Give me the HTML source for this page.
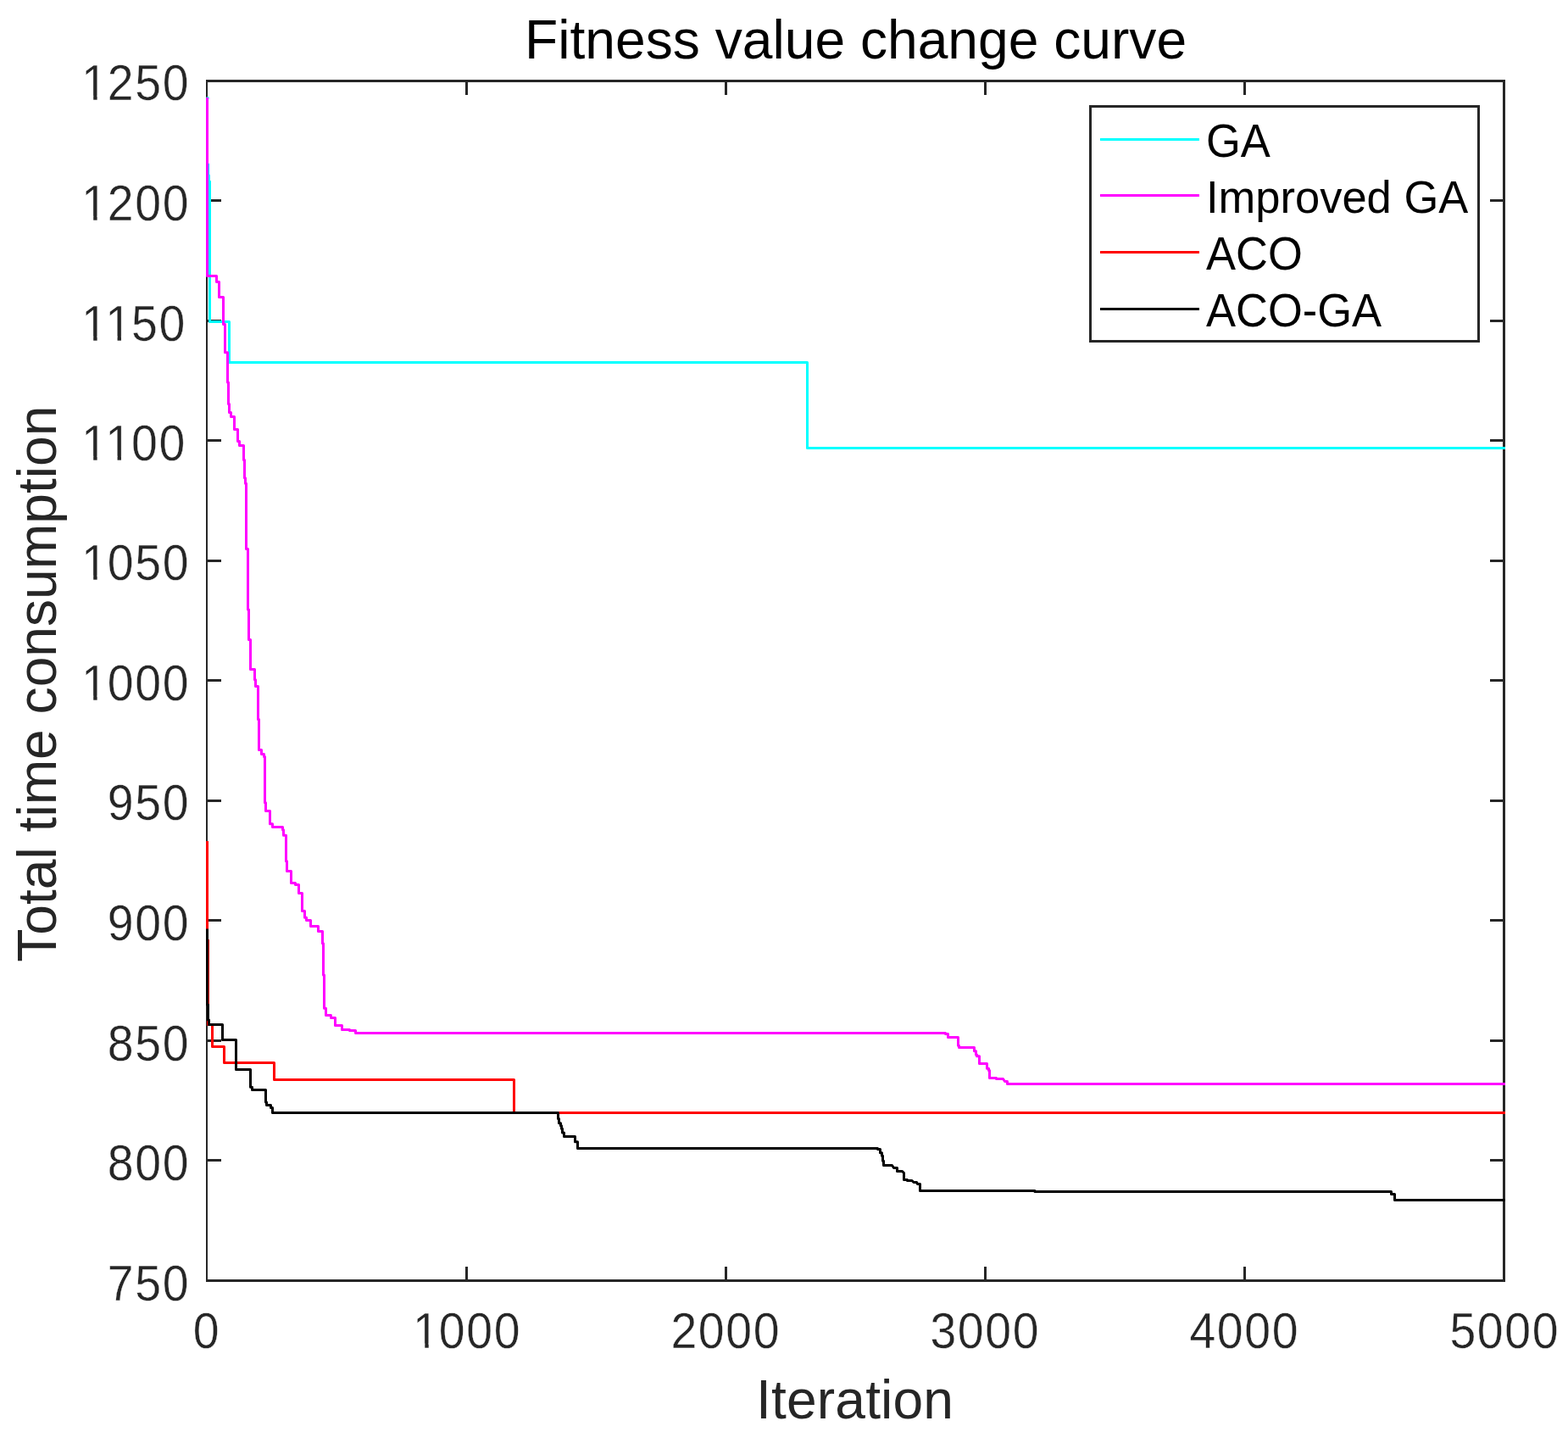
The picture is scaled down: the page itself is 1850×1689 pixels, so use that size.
<!DOCTYPE html>
<html lang="en"><head><meta charset="utf-8"><title>Fitness value change curve</title>
<style>html,body{margin:0;padding:0;background:#fff}body{width:1850px;height:1689px;overflow:hidden}svg{display:block}text{font-family:'Liberation Sans', sans-serif}</style>
</head><body>
<svg width="1850" height="1689" viewBox="0 0 1850 1689">
<rect x="0" y="0" width="1850" height="1689" fill="#ffffff"/>
<g id="axes" shape-rendering="crispEdges">
<rect x="243.0" y="94.0" width="1533.0" height="3.0" fill="#262626"/>
<rect x="243.0" y="1509.0" width="1533.0" height="3.0" fill="#262626"/>
<rect x="1773.0" y="94.0" width="3.0" height="1418.0" fill="#262626"/>
<rect x="243.0" y="94.0" width="2.0" height="1418.0" fill="#262626"/>
<rect x="549.0" y="1494.0" width="3" height="15" fill="#262626"/>
<rect x="549.0" y="97.0" width="3" height="15" fill="#262626"/>
<rect x="855.0" y="1494.0" width="3" height="15" fill="#262626"/>
<rect x="855.0" y="97.0" width="3" height="15" fill="#262626"/>
<rect x="1161.0" y="1494.0" width="3" height="15" fill="#262626"/>
<rect x="1161.0" y="97.0" width="3" height="15" fill="#262626"/>
<rect x="1467.0" y="1494.0" width="3" height="15" fill="#262626"/>
<rect x="1467.0" y="97.0" width="3" height="15" fill="#262626"/>
<rect x="245.0" y="1367.0" width="16" height="3" fill="#262626"/>
<rect x="1758.0" y="1367.0" width="15" height="3" fill="#262626"/>
<rect x="245.0" y="1226.0" width="16" height="3" fill="#262626"/>
<rect x="1758.0" y="1226.0" width="15" height="3" fill="#262626"/>
<rect x="245.0" y="1084.0" width="16" height="3" fill="#262626"/>
<rect x="1758.0" y="1084.0" width="15" height="3" fill="#262626"/>
<rect x="245.0" y="943.0" width="16" height="3" fill="#262626"/>
<rect x="1758.0" y="943.0" width="15" height="3" fill="#262626"/>
<rect x="245.0" y="801.0" width="16" height="3" fill="#262626"/>
<rect x="1758.0" y="801.0" width="15" height="3" fill="#262626"/>
<rect x="245.0" y="660.0" width="16" height="3" fill="#262626"/>
<rect x="1758.0" y="660.0" width="15" height="3" fill="#262626"/>
<rect x="245.0" y="518.0" width="16" height="3" fill="#262626"/>
<rect x="1758.0" y="518.0" width="15" height="3" fill="#262626"/>
<rect x="245.0" y="377.0" width="16" height="3" fill="#262626"/>
<rect x="1758.0" y="377.0" width="15" height="3" fill="#262626"/>
<rect x="245.0" y="235.0" width="16" height="3" fill="#262626"/>
<rect x="1758.0" y="235.0" width="15" height="3" fill="#262626"/>
</g>
<g id="xticklabels" font-size="58.33" fill="#262626" text-anchor="start" stroke="#ffffff" stroke-width="0.4" letter-spacing="1.71">
<text transform="translate(227.78 1589.6) scale(0.95 1.008)">0</text>
<text transform="translate(485.41 1589.6) scale(0.95 1.008)" dx="1.79 -1.79">1000</text>
<text transform="translate(791.41 1589.6) scale(0.95 1.008)">2000</text>
<text transform="translate(1097.41 1589.6) scale(0.95 1.008)">3000</text>
<text transform="translate(1403.41 1589.6) scale(0.95 1.008)">4000</text>
<text transform="translate(1710.41 1589.6) scale(0.95 1.008)">5000</text>
</g>
<g id="yticklabels" font-size="58.33" fill="#262626" text-anchor="start" stroke="#ffffff" stroke-width="0.4" letter-spacing="1.71">
<text transform="translate(126.77 1533.95) scale(0.95 1.008)">750</text>
<text transform="translate(126.77 1391.8) scale(0.95 1.008)">800</text>
<text transform="translate(126.77 1250.5) scale(0.95 1.008)">850</text>
<text transform="translate(126.77 1108.65) scale(0.95 1.008)">900</text>
<text transform="translate(126.77 966.7) scale(0.95 1.008)">950</text>
<text transform="translate(94.33 825.7) scale(0.95 1.008)" dx="1.79 -1.79">1000</text>
<text transform="translate(94.33 683.8) scale(0.95 1.008)" dx="1.79 -1.79">1050</text>
<text transform="translate(94.33 542.9) scale(0.95 1.008)" dx="1.79 0 -1.79">1100</text>
<text transform="translate(94.33 401.7) scale(0.95 1.008)" dx="1.79 0 -1.79">1150</text>
<text transform="translate(94.33 259.8) scale(0.95 1.008)" dx="1.79 -1.79">1200</text>
<text transform="translate(94.33 117.85) scale(0.95 1.008)" dx="1.79 -1.79">1250</text>
</g>
<g id="tick-patches" fill="#ffffff">
<rect x="490.14" y="1584.51" width="11.16" height="5.99"/>
<rect x="505.70" y="1584.51" width="10.73" height="5.99"/>
<rect x="99.05" y="820.61" width="11.16" height="5.99"/>
<rect x="114.61" y="820.61" width="10.73" height="5.99"/>
<rect x="99.05" y="678.71" width="11.16" height="5.99"/>
<rect x="114.61" y="678.71" width="10.73" height="5.99"/>
<rect x="99.05" y="537.81" width="11.16" height="5.99"/>
<rect x="114.61" y="537.81" width="10.73" height="5.99"/>
<rect x="127.39" y="537.81" width="11.16" height="5.99"/>
<rect x="142.95" y="537.81" width="10.73" height="5.99"/>
<rect x="99.05" y="396.61" width="11.16" height="5.99"/>
<rect x="114.61" y="396.61" width="10.73" height="5.99"/>
<rect x="127.39" y="396.61" width="11.16" height="5.99"/>
<rect x="142.95" y="396.61" width="10.73" height="5.99"/>
<rect x="99.05" y="254.71" width="11.16" height="5.99"/>
<rect x="114.61" y="254.71" width="10.73" height="5.99"/>
<rect x="99.05" y="112.76" width="11.16" height="5.99"/>
<rect x="114.61" y="112.76" width="10.73" height="5.99"/>
</g>
<g id="labels" font-size="64.17" text-anchor="middle">
<text id="title" x="1009.6" y="68.5" fill="#000000">Fitness value change curve</text>
<text id="xlabel" x="1008.6" y="1673.4" fill="#262626" letter-spacing="0.16">Iteration</text>
<text id="ylabel" transform="translate(66.2 806.7) rotate(-90)" fill="#262626">Total time consumption</text>
</g>
<g id="curves" fill="none" stroke-width="3" stroke-linejoin="round" stroke-linecap="butt">
<polyline id="ga" stroke="#00ffff" points="245,114.2 245,116 244.5,116 244.5,193.8 245.5,193.8 245.5,206.9 246.5,206.9 246.5,213.9 247.5,213.9 247.5,379.5 270.5,379.5 270.5,427.5 952.5,427.5 952.5,528.5 1776,528.5"/>
<polyline id="iga" stroke="#ff00ff" points="244.5,115 244.5,325.5 255.5,325.5 255.5,332.5 258.5,332.5 258.5,350.5 263.5,350.5 263.5,382.5 265.5,382.5 265.5,415.8 268.5,415.8 268.5,450.9 269.5,450.9 269.5,476.4 270.5,476.4 270.5,486.5 272.5,486.5 272.5,491.5 276.5,491.5 276.5,506.5 280.5,506.5 280.5,520.4 282.5,520.4 282.5,525.5 287.5,525.5 287.5,542.4 288.5,542.4 288.5,563.8 289.5,563.8 289.5,570.3 290.5,570.3 290.5,647.6 292.5,647.6 292.5,719 293.5,719 293.5,754.5 295.5,754.5 295.5,789.5 300.5,789.5 300.5,801.7 301.5,801.7 301.5,809.5 304.5,809.5 304.5,848.6 305.5,848.6 305.5,884.5 308.5,884.5 308.5,889.5 311.5,889.5 311.5,892.6 312.5,892.6 312.5,946.7 313.5,946.7 313.5,956.5 318.5,956.5 318.5,971.7 321.5,971.7 321.5,975.5 333.5,975.5 333.5,978.8 334.5,978.8 334.5,985.3 337.5,985.3 337.5,1015.7 338.5,1015.7 338.5,1027.5 343.5,1027.5 343.5,1041.5 348.5,1041.5 348.5,1043.5 352.5,1043.5 352.5,1053.5 356.5,1053.5 356.5,1074.5 359.5,1074.5 359.5,1082.2 361.5,1082.2 361.5,1085.5 366.5,1085.5 366.5,1092.5 375.5,1092.5 375.5,1098.5 380.5,1098.5 380.5,1112.8 381.5,1112.8 381.5,1150 382.5,1150 382.5,1189.2 384.5,1189.2 384.5,1197.5 390.5,1197.5 390.5,1200.5 395.5,1200.5 395.5,1209.5 403.5,1209.5 403.5,1214.5 412.5,1214.5 412.5,1215.5 419.5,1215.5 419.5,1218.5 1115.5,1218.5 1115.5,1219.5 1118.5,1219.5 1118.5,1223.5 1130.5,1223.5 1130.5,1233.3 1131.5,1233.3 1131.5,1235.5 1149.5,1235.5 1149.5,1239.7 1151.5,1239.7 1151.5,1244 1152.5,1244 1152.5,1245.8 1155.5,1245.8 1155.5,1254.5 1164.5,1254.5 1164.5,1260.3 1166.5,1260.3 1166.5,1262.4 1167.5,1262.4 1167.5,1271.5 1175.5,1271.5 1175.5,1272.5 1183.5,1272.5 1185.5,1275.5 1188.5,1275.5 1188.5,1278.5 1776,1278.5"/>
<polyline id="aco" stroke="#ff0000" points="244.5,992 244.5,1108.9 245.5,1108.9 245.5,1208.5 250.5,1208.5 250.5,1234.5 264.5,1234.5 264.5,1253.5 323.5,1253.5 323.5,1273.5 606.5,1273.5 606.5,1312.5 1776,1312.5"/>
<polyline id="acoga" stroke="#000000" points="244.5,1095.5 244.5,1185 245.5,1185 245.5,1203 246.5,1203 246.5,1208.5 262.5,1208.5 262.5,1226.5 278.5,1226.5 278.5,1261.5 295.5,1261.5 295.5,1282.2 297.5,1282.2 297.5,1285.5 313.5,1285.5 313.5,1300 314.5,1300 314.5,1303.5 319.5,1303.5 319.5,1306.6 321.5,1306.6 321.5,1312.5 658.5,1312.5 658.5,1319.5 659.5,1319.5 659.5,1324.8 661.5,1324.8 661.5,1327.8 662.5,1327.8 662.5,1331.3 663.5,1331.3 663.5,1336.1 665.5,1336.1 665.5,1340.5 678.5,1340.5 678.5,1346.8 681.5,1346.8 681.5,1354.5 1035.5,1354.5 1035.5,1355.5 1038.5,1355.5 1038.5,1359.7 1040.5,1359.7 1040.5,1363.3 1041.5,1363.3 1041.5,1369.2 1042.5,1369.2 1042.5,1374.5 1052.5,1374.5 1054.5,1377.5 1058.5,1377.5 1058.5,1381.5 1064.5,1381.5 1066.5,1383.5 1066.5,1391.5 1070.5,1391.5 1070.5,1392.5 1076,1392.5 1078,1394.5 1081.5,1394.5 1082.5,1396.5 1085.5,1396.5 1085.5,1404.5 1221,1404.5 1221,1405.5 1641.5,1405.5 1641.5,1408.5 1645.5,1408.5 1645.5,1415.5 1776,1415.5"/>
</g>
<g id="legend">
<rect x="1286.5" y="125.5" width="458.0" height="277.0" fill="#ffffff" stroke="#262626" stroke-width="3" shape-rendering="crispEdges"/>
<rect x="1298" y="163.0" width="117" height="3" fill="#00ffff" shape-rendering="crispEdges"/>
<text transform="translate(1423 185.2) scale(1 1.04)" font-size="52.5" fill="#000000">GA</text>
<rect x="1298" y="229.0" width="117" height="3" fill="#ff00ff" shape-rendering="crispEdges"/>
<text transform="translate(1423 251.0) scale(1 1.02)" font-size="52.5" fill="#000000">Improved GA</text>
<rect x="1298" y="296.0" width="117" height="3" fill="#ff0000" shape-rendering="crispEdges"/>
<text transform="translate(1423 317.7) scale(1 1.04)" font-size="52.5" fill="#000000">ACO</text>
<rect x="1298" y="363.0" width="117" height="3" fill="#000000" shape-rendering="crispEdges"/>
<text transform="translate(1423 384.8) scale(1 1.04)" font-size="52.5" fill="#000000">ACO-GA</text>
</g>
</svg>
</body></html>
